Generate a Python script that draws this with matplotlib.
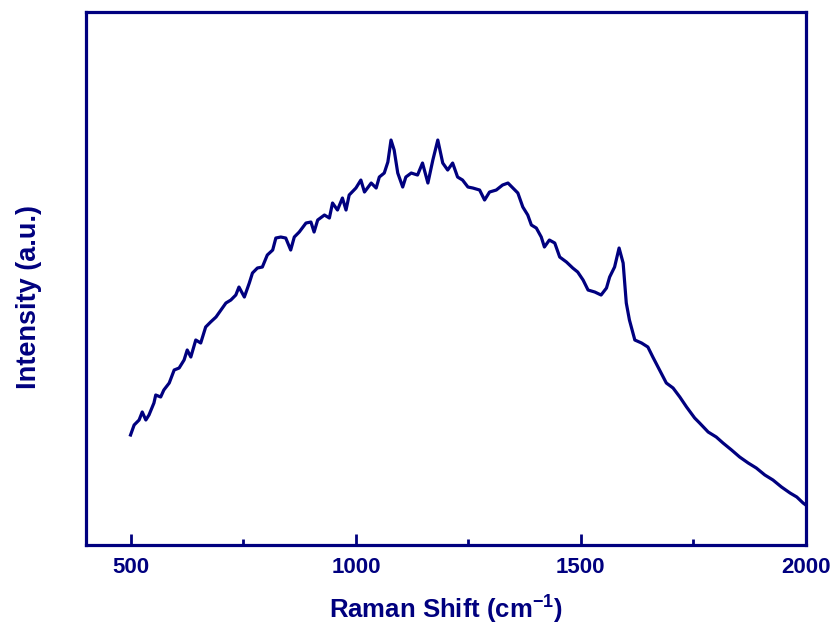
import matplotlib
matplotlib.use("Agg")
import matplotlib.pyplot as plt
from matplotlib.ticker import MultipleLocator

wavenumber = [499, 507, 518, 525, 533, 540, 551, 555, 566, 573, 585, 596, 607, 618, 625,
              633, 644, 655, 666, 677, 689, 700, 711, 722, 733, 740, 752, 763, 770, 781,
              792, 803, 815, 822, 833, 844, 855, 863, 874, 889, 900, 907, 915, 930, 941,
              948, 959, 970, 978, 985, 1000, 1011, 1019, 1034, 1045, 1052, 1063, 1071,
              1078, 1085, 1093, 1104, 1111, 1123, 1137, 1148, 1160, 1171, 1182, 1193,
              1204, 1215, 1226, 1237, 1249, 1260, 1275, 1286, 1297, 1312, 1326, 1338,
              1349, 1360, 1371, 1382, 1390, 1401, 1412, 1419, 1430, 1442, 1453, 1468,
              1482, 1493, 1505, 1516, 1531, 1545, 1557, 1564, 1575, 1585, 1594, 1601,
              1608, 1620, 1635, 1649, 1660, 1675, 1690, 1705, 1720, 1735, 1753, 1764,
              1783, 1801, 1816, 1835, 1853, 1872, 1890, 1909, 1927, 1946, 1965, 1980,
              1994, 2000]
intensity = [110, 120, 125, 133, 125, 130, 142, 150, 148, 155, 162, 175, 177, 185, 195,
             188, 205, 202, 218, 223, 228, 235, 242, 245, 250, 258, 248, 262, 272, 277,
             278, 290, 295, 307, 308, 307, 295, 308, 313, 322, 323, 313, 325, 330, 327,
             342, 335, 347, 335, 350, 357, 365, 353, 362, 357, 368, 372, 383,
             405, 395, 372, 358, 368, 372, 370, 382, 362, 385, 405, 382,
             375, 382, 368, 365, 358, 357, 355, 345, 353, 355, 360, 362,
             357, 352, 338, 330, 320, 317, 308, 298, 305, 302, 288, 283,
             277, 273, 265, 255, 253, 250, 257, 268, 278, 297, 282, 242,
             225, 205, 202, 198, 188, 175, 162, 157, 148, 138, 127, 122,
             113, 108, 102, 95, 88, 82, 77, 70, 65, 58, 52, 48,
             42, 40]

navy = "#00007f"
plt.rcParams['font.family'] = ['Liberation Sans', 'DejaVu Sans']
plt.rcParams['mathtext.fontset'] = 'custom'
plt.rcParams['mathtext.rm'] = 'Liberation Sans:bold'
plt.rcParams['mathtext.bf'] = 'Liberation Sans:bold'

fig = plt.figure(figsize=(8.35, 6.34), dpi=100)
ax = fig.add_axes([0.103, 0.1404, 0.862, 0.8406])
ax.plot(wavenumber, intensity, color=navy, lw=2.3, solid_joinstyle='round')

ax.set_xlim(400, 2000)
ax.set_ylim(0, 533)
ax.xaxis.set_major_locator(MultipleLocator(500))
ax.xaxis.set_minor_locator(MultipleLocator(250))
ax.set_yticks([])
ax.tick_params(axis='x', which='major', direction='in', length=8, width=2, color=navy,
               labelsize=16, labelcolor=navy, pad=9)
ax.tick_params(axis='x', which='minor', direction='in', length=4, width=2, color=navy)
for lab in ax.get_xticklabels():
    lab.set_fontweight('bold')
for s in ax.spines.values():
    s.set_color(navy)
    s.set_linewidth(2.3)

ax.set_xlabel("Raman Shift (cm$^{\\mathbf{-1}}$)", fontsize=18.5, fontweight='bold',
              color=navy, labelpad=10)
ax.set_ylabel("Intensity (a.u.)", fontsize=19.5, fontweight='bold', color=navy)
ax.yaxis.set_label_coords(-0.061, 0.465)

fig.savefig("out.png", dpi=100)
